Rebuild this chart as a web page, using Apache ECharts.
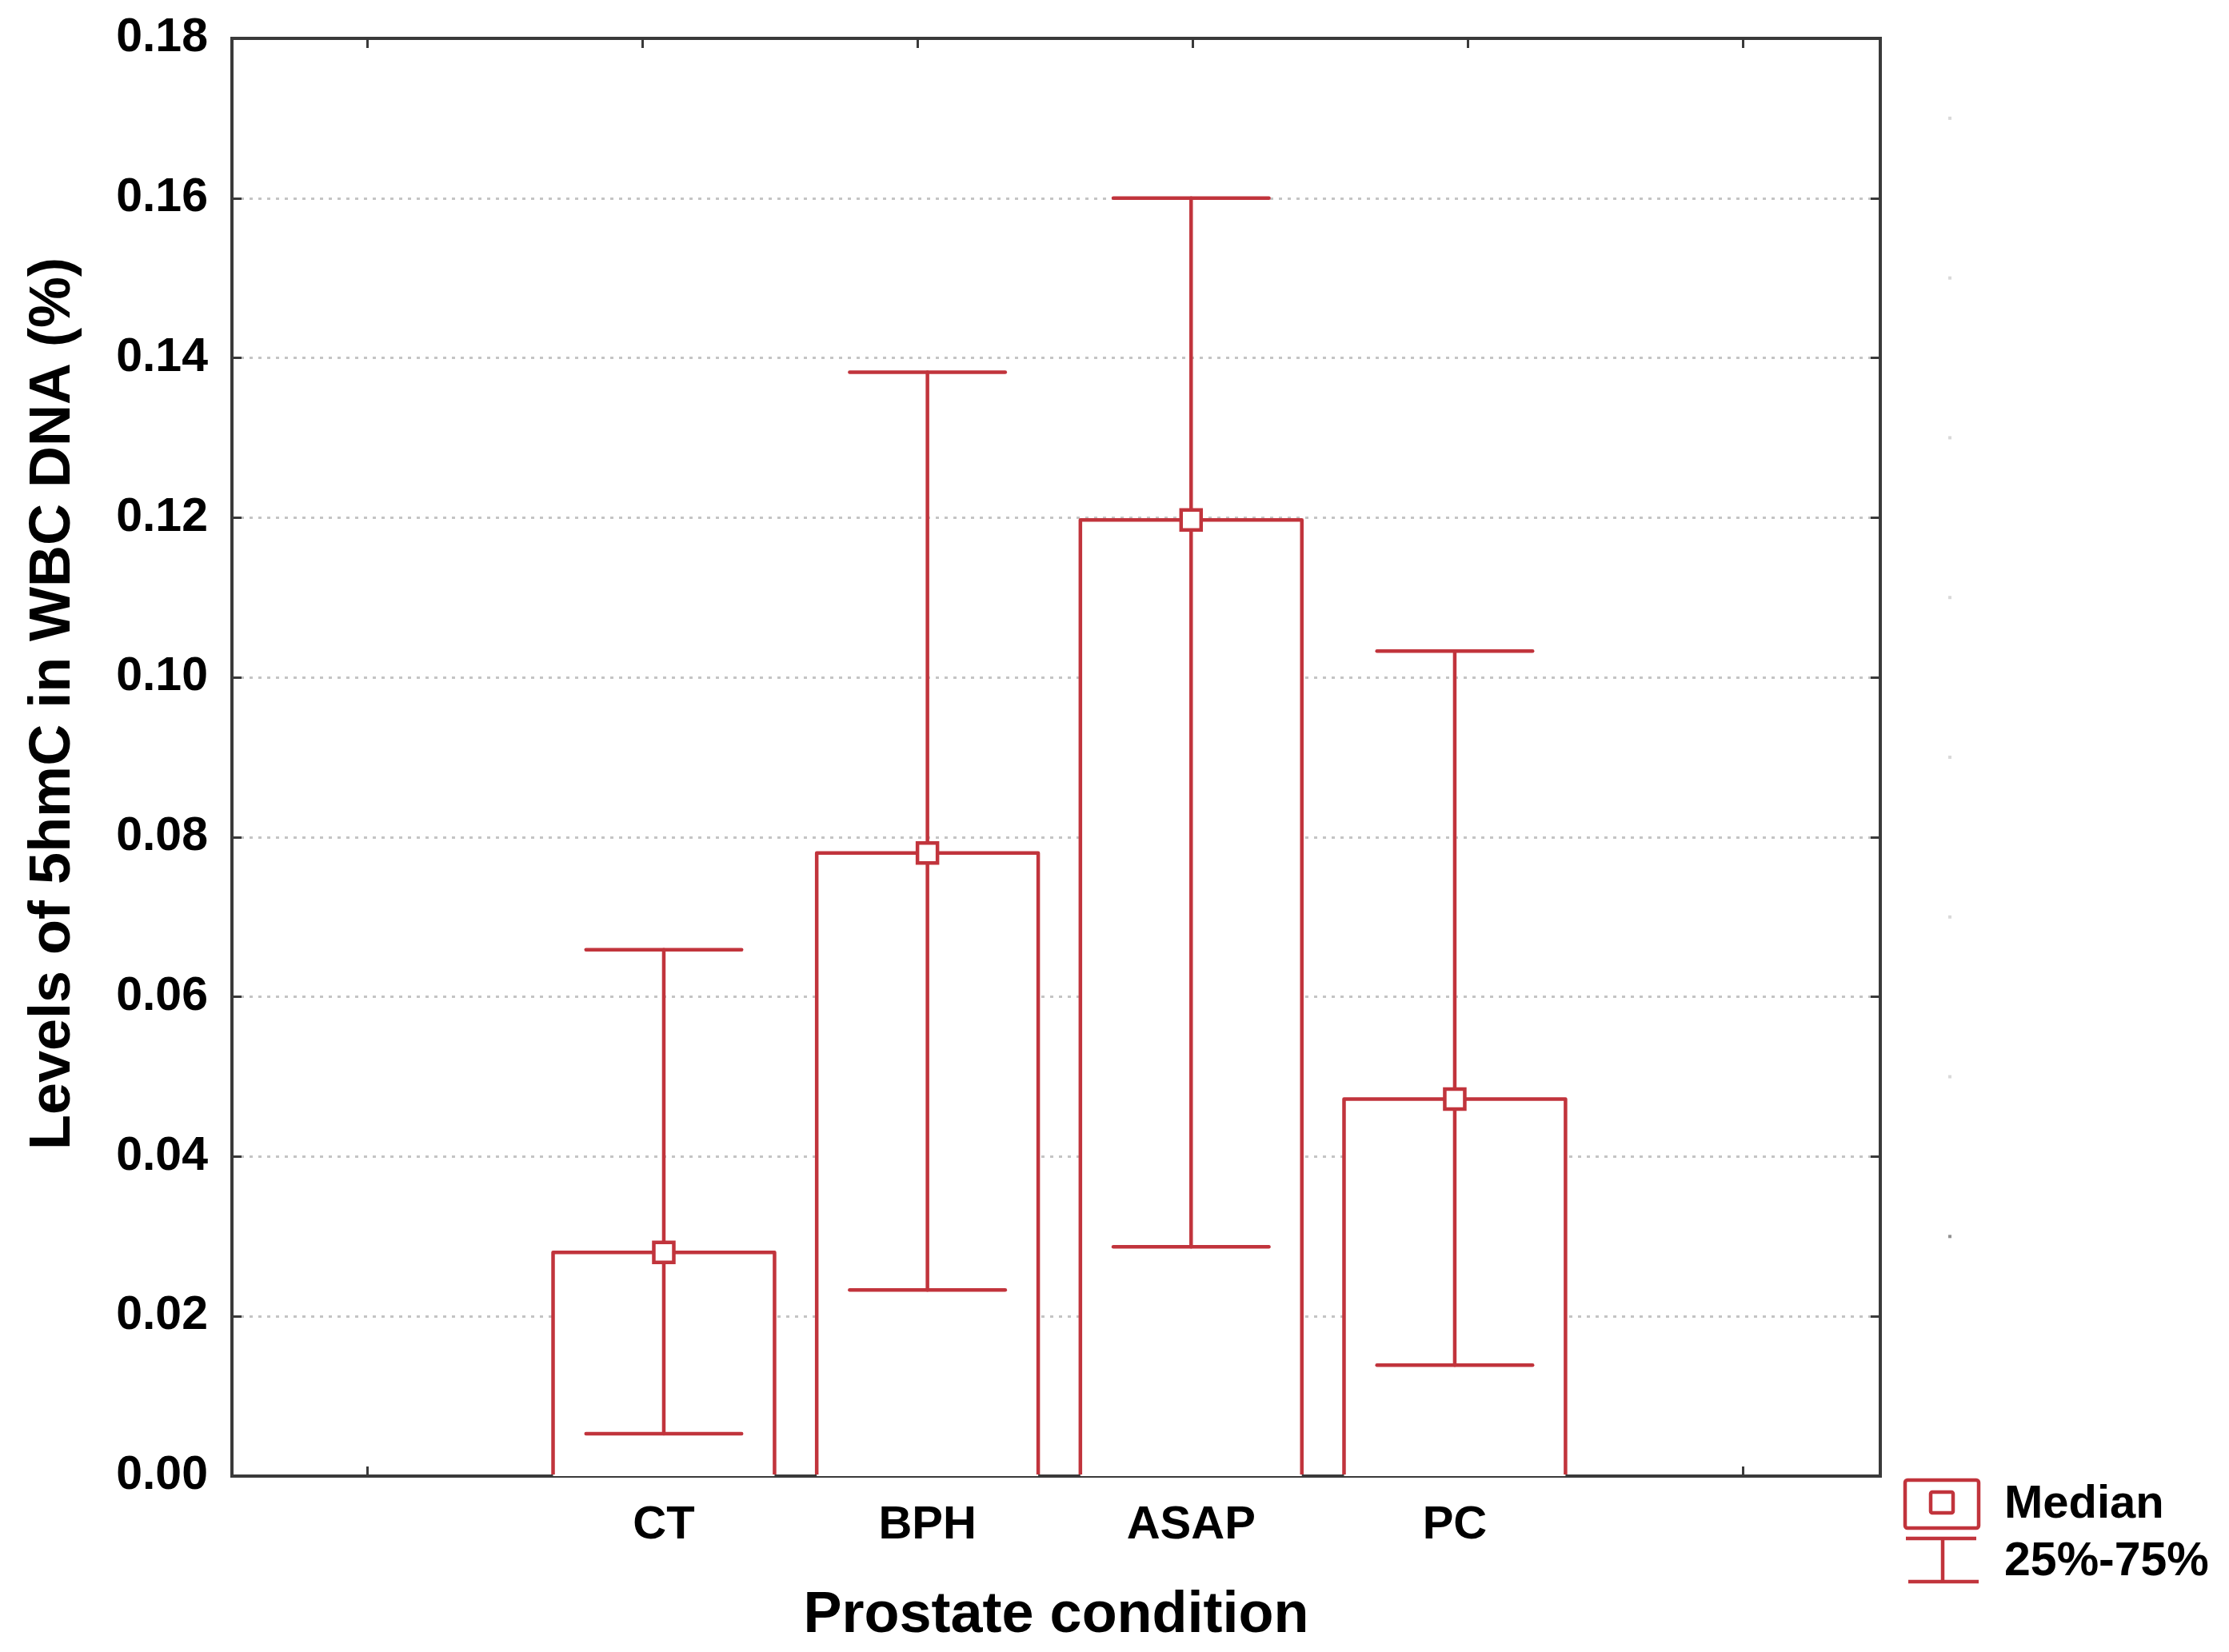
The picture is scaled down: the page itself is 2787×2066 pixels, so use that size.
<!DOCTYPE html>
<html>
<head>
<meta charset="utf-8">
<script src="https://cdn.jsdelivr.net/npm/echarts@6/dist/echarts.min.js"></script>
<style>
html,body{margin:0;padding:0;background:#fff;}
#chart{width:2787px;height:2066px;}
</style>
</head>
<body>
<div id="chart"></div>
<script>
// ---- data ----
const categories = ['CT', 'BPH', 'ASAP', 'PC'];
const catPositions = [1, 2, 3, 4];
const medians = [0.028, 0.078, 0.1197, 0.0472];
const q25 = [0.0053, 0.0233, 0.0287, 0.0139];
const q75 = [0.0659, 0.1382, 0.160, 0.1033];
const yMin = 0, yMax = 0.18, yStep = 0.02;
const bottomTickPositions = [-0.125, 1, 2, 3, 4, 5.092];
const topTickPositions = [-0.125, 0.918, 1.962, 3.005, 4.049, 5.092];
const sideDots = [0.17, 0.15, 0.13, 0.11, 0.09, 0.07, 0.05, 0.03];
const legendLabels = ['Median', '25%-75%'];
const yTitle = 'Levels of 5hmC in WBC DNA (%)';
const xTitle = 'Prostate condition';

// ---- style ----
const RED = '#c1343c';
const AXIS = '#3a3a3a';
const FONT = "'Liberation Sans', Arial, sans-serif";
const BOX_W = 0.84;
const CAP_W = 0.59;
const LW = 4.5;

const chart = echarts.init(document.getElementById('chart'), null, {renderer: 'canvas'});

const boxData = catPositions.map((x, i) => [x, medians[i]]);
const whiskerData = catPositions.map((x, i) => [x, q25[i], q75[i]]);
const dotData = sideDots.map(v => [0.5, v]);

const option = {
  animation: false,
  backgroundColor: '#fff',
  grid: [
    {left: 290, right: 436, top: 48, bottom: 220, containLabel: false},
    {left: 2428, width: 20, top: 48, bottom: 220}
  ],
  xAxis: [
    {
      type: 'value', gridIndex: 0, position: 'bottom',
      min: -0.638, max: 5.614,
      axisLine: {show: true, onZero: false, lineStyle: {color: AXIS, width: 4, cap: 'square'}},
      axisTick: {show: true, inside: true, length: 12, lineStyle: {color: AXIS, width: 3}, customValues: bottomTickPositions},
      axisLabel: {
        show: true, customValues: catPositions, margin: 33,
        formatter: v => categories[Math.round(v) - 1] || '',
        fontSize: 58, fontWeight: 'bold', color: '#000', fontFamily: FONT
      },
      splitLine: {show: false},
      name: xTitle, nameLocation: 'middle', nameGap: 139,
      nameTextStyle: {fontSize: 72, fontWeight: 'bold', color: '#000', fontFamily: FONT}
    },
    {
      type: 'value', gridIndex: 0, position: 'top',
      min: -0.638, max: 5.614,
      axisLine: {show: true, onZero: false, lineStyle: {color: AXIS, width: 4, cap: 'square'}},
      axisTick: {show: true, inside: true, length: 12, lineStyle: {color: AXIS, width: 3}, customValues: topTickPositions},
      axisLabel: {show: false},
      splitLine: {show: false}
    },
    {type: 'value', gridIndex: 1, min: 0, max: 1, show: false}
  ],
  yAxis: [
    {
      type: 'value', gridIndex: 0, position: 'left',
      min: yMin, max: yMax, interval: yStep,
      axisLine: {show: true, onZero: false, lineStyle: {color: AXIS, width: 4, cap: 'square'}},
      axisTick: {show: true, inside: true, length: 12, lineStyle: {color: AXIS, width: 3}},
      axisLabel: {
        show: true, margin: 30, formatter: v => v.toFixed(2),
        fontSize: 59, fontWeight: 'bold', color: '#000', fontFamily: FONT
      },
      splitLine: {show: true, lineStyle: {color: '#c4c4c4', width: 3, type: [4, 7]}}
    },
    {
      type: 'value', gridIndex: 0, position: 'right',
      min: yMin, max: yMax, interval: yStep,
      axisLine: {show: true, onZero: false, lineStyle: {color: AXIS, width: 4, cap: 'square'}},
      axisTick: {show: true, inside: true, length: 12, lineStyle: {color: AXIS, width: 3}},
      axisLabel: {show: false},
      splitLine: {show: false}
    },
    {type: 'value', gridIndex: 1, min: yMin, max: yMax, show: false}
  ],
  series: [
    {
      type: 'custom', name: 'box', xAxisIndex: 0, yAxisIndex: 0, z: 3,
      data: boxData,
      renderItem: function (params, api) {
        const x = api.value(0), med = api.value(1);
        const p0 = api.coord([x - BOX_W / 2, 0]);
        const p1 = api.coord([x + BOX_W / 2, med]);
        return {
          type: 'group',
          children: [
            {type: 'rect', shape: {x: p0[0], y: p1[1], width: p1[0] - p0[0], height: p0[1] - p1[1]}, style: {fill: '#fff'}},
            {type: 'polyline', shape: {points: [[p0[0], p0[1] - 2], [p0[0], p1[1]], [p1[0], p1[1]], [p1[0], p0[1] - 2]]},
              style: {stroke: RED, lineWidth: LW, fill: null, lineJoin: 'round'}}
          ]
        };
      }
    },
    {
      type: 'custom', name: 'whisker', xAxisIndex: 0, yAxisIndex: 0, z: 4,
      data: whiskerData,
      renderItem: function (params, api) {
        const x = api.value(0), lo = api.value(1), hi = api.value(2);
        const pl = api.coord([x, lo]);
        const ph = api.coord([x, hi]);
        const cl = api.coord([x - CAP_W / 2, lo]);
        const cr = api.coord([x + CAP_W / 2, lo]);
        const st = {stroke: RED, lineWidth: LW, lineCap: 'round'};
        return {
          type: 'group',
          children: [
            {type: 'line', shape: {x1: pl[0], y1: pl[1], x2: ph[0], y2: ph[1]}, style: st},
            {type: 'line', shape: {x1: cl[0], y1: pl[1], x2: cr[0], y2: pl[1]}, style: st},
            {type: 'line', shape: {x1: cl[0], y1: ph[1], x2: cr[0], y2: ph[1]}, style: st}
          ]
        };
      }
    },
    {
      type: 'scatter', name: 'Median', xAxisIndex: 0, yAxisIndex: 0, z: 5,
      data: boxData, symbol: 'rect', symbolSize: 25,
      itemStyle: {color: '#fff', borderColor: RED, borderWidth: LW, opacity: 1}
    },
    {
      type: 'scatter', name: 'dots', xAxisIndex: 2, yAxisIndex: 2,
      data: dotData, symbol: 'rect', symbolSize: 4,
      itemStyle: {color: function (p) { return p.dataIndex === sideDots.length - 1 ? '#777' : '#cfcfcf'; }}
    }
  ],
  graphic: [
    {
      type: 'text', x: 67, y: 880, rotation: Math.PI / 2,
      style: {text: yTitle, fontSize: 72, fontWeight: 'bold', fontFamily: FONT, fill: '#000', align: 'center', verticalAlign: 'middle'}
    },
    {type: 'rect', shape: {x: 2382, y: 1851, width: 92, height: 60, r: 3}, style: {fill: '#fff', stroke: RED, lineWidth: LW}},
    {type: 'rect', shape: {x: 2414, y: 1866, width: 28, height: 26, r: 2}, style: {fill: '#fff', stroke: RED, lineWidth: LW}},
    {type: 'line', shape: {x1: 2383, y1: 1924, x2: 2471, y2: 1924}, style: {stroke: RED, lineWidth: LW}},
    {type: 'line', shape: {x1: 2429, y1: 1924, x2: 2429, y2: 1978}, style: {stroke: RED, lineWidth: LW}},
    {type: 'line', shape: {x1: 2386, y1: 1978, x2: 2474, y2: 1978}, style: {stroke: RED, lineWidth: LW}},
    {type: 'text', x: 2506, y: 1882, style: {text: legendLabels[0], fontSize: 58, fontWeight: 'bold', fontFamily: FONT, fill: '#000', align: 'left', verticalAlign: 'middle'}},
    {type: 'text', x: 2506, y: 1954, style: {text: legendLabels[1], fontSize: 59, fontWeight: 'bold', fontFamily: FONT, fill: '#000', align: 'left', verticalAlign: 'middle'}}
  ]
};
chart.setOption(option);
</script>
</body>
</html>
